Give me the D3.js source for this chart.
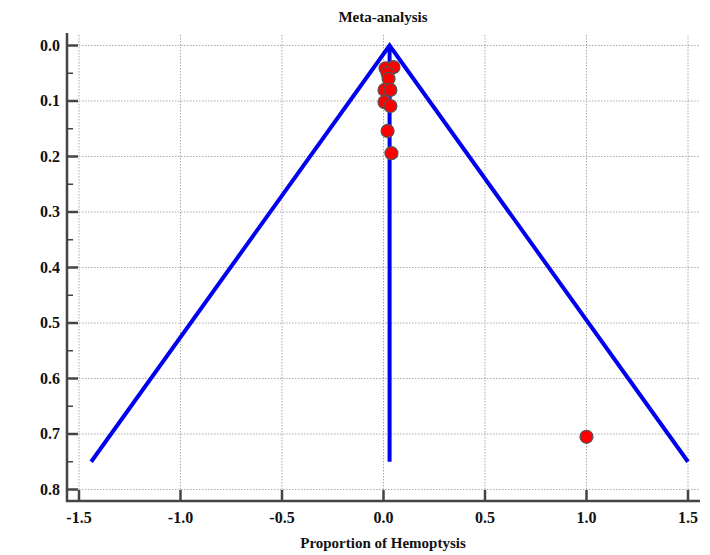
<!DOCTYPE html>
<html>
<head>
<meta charset="utf-8">
<script src="https://cdn.jsdelivr.net/npm/d3@7"></script>
<style>
  body { margin: 0; background: #fff; }
  text { font-family: "Liberation Serif", "Times New Roman", serif; font-weight: bold; fill: #111; }
</style>
</head>
<body>
<svg id="chart" width="710" height="555"></svg>
<script>
// study proportions and their standard errors
var proportion = [0.010, 0.049, 0.020, 0.025, 0.005, 0.034, 0.005, 0.034, 0.020, 0.039, 1.0]
var stdError   = [0.041, 0.039, 0.050, 0.060, 0.080, 0.080, 0.102, 0.109, 0.154, 0.194, 0.705]
var pooled = 0.03
var funnelSE = [0, 0.75]
var xTicks = [-1.5, -1.0, -0.5, 0.0, 0.5, 1.0, 1.5]
var yTicks = [0.0, 0.1, 0.2, 0.3, 0.4, 0.5, 0.6, 0.7, 0.8]
var yMinor = [0.05, 0.15, 0.25, 0.35, 0.45, 0.55, 0.65, 0.75]

var svg = d3.select("#chart")
var pLeft = 67, pRight = 700, pTop = 33, pBottom = 501

var x = d3.scaleLinear().domain([-1.5, 1.5]).range([79, 688])
var y = d3.scaleLinear().domain([0, 0.8]).range([45.5, 489.5])

// grid
var grid = svg.append("g")
grid.selectAll(".vg").data(xTicks).enter().append("line")
  .attr("x1", d => x(d)).attr("x2", d => x(d))
  .attr("y1", pTop + 2).attr("y2", pBottom)
  .attr("stroke", "#aaa").attr("stroke-width", 1).attr("stroke-dasharray", "1.5,1.5")
grid.selectAll(".hg").data(yTicks).enter().append("line")
  .attr("x1", pLeft).attr("x2", pRight)
  .attr("y1", d => y(d)).attr("y2", d => y(d))
  .attr("stroke", "#aaa").attr("stroke-width", 1).attr("stroke-dasharray", "1.5,1.5")

// funnel lines
var z = 1.96
var seMax = funnelSE[1]
var funnel = svg.append("g")
funnel.append("path")
  .attr("d", d3.line()([[x(pooled - z * seMax), y(seMax)], [x(pooled), y(0)], [x(pooled + z * seMax), y(seMax)]]))
  .attr("fill", "none").attr("stroke", "#0000f0").attr("stroke-width", 4)
  .attr("stroke-linejoin", "miter")

// points
svg.append("g").selectAll("circle").data(proportion).enter().append("circle")
  .attr("cx", d => x(d))
  .attr("cy", (d, i) => y(stdError[i]))
  .attr("r", 6.5)
  .attr("fill", "#ff0000").attr("stroke", "#555").attr("stroke-width", 1.2)

funnel.append("line")
  .attr("x1", x(pooled)).attr("x2", x(pooled))
  .attr("y1", y(0)).attr("y2", y(seMax))
  .attr("stroke", "#0000f0").attr("stroke-width", 4)

// axes
var ax = svg.append("g").attr("stroke", "#444")
ax.append("line").attr("x1", pLeft).attr("x2", pLeft).attr("y1", pTop).attr("y2", pBottom + 1).attr("stroke-width", 2.5)
ax.append("line").attr("x1", pLeft - 1).attr("x2", pRight).attr("y1", pBottom).attr("y2", pBottom).attr("stroke-width", 2.5)
ax.selectAll(".yt").data(yTicks).enter().append("line")
  .attr("x1", pLeft).attr("x2", pLeft + 11).attr("y1", d => y(d)).attr("y2", d => y(d)).attr("stroke-width", 2.5)
ax.selectAll(".ym").data(yMinor).enter().append("line")
  .attr("x1", pLeft).attr("x2", pLeft + 6).attr("y1", d => y(d)).attr("y2", d => y(d)).attr("stroke-width", 1.5)
ax.selectAll(".xt").data(xTicks).enter().append("line")
  .attr("x1", d => x(d)).attr("x2", d => x(d)).attr("y1", pBottom).attr("y2", pBottom - 11).attr("stroke-width", 2.5)

svg.selectAll(".ylab").data(yTicks).enter().append("text")
  .attr("x", 60).attr("y", d => y(d) + 5)
  .attr("text-anchor", "end").attr("font-size", 16)
  .text(d => d.toFixed(1))
svg.selectAll(".xlab").data(xTicks).enter().append("text")
  .attr("x", d => x(d)).attr("y", 523)
  .attr("text-anchor", "middle").attr("font-size", 16)
  .text(d => d.toFixed(1))

svg.append("text").attr("x", 383).attr("y", 22).attr("text-anchor", "middle")
  .attr("font-size", 15).text("Meta-analysis")
svg.append("text").attr("x", 383).attr("y", 548).attr("text-anchor", "middle")
  .attr("font-size", 15).text("Proportion of Hemoptysis")
</script>
</body>
</html>
